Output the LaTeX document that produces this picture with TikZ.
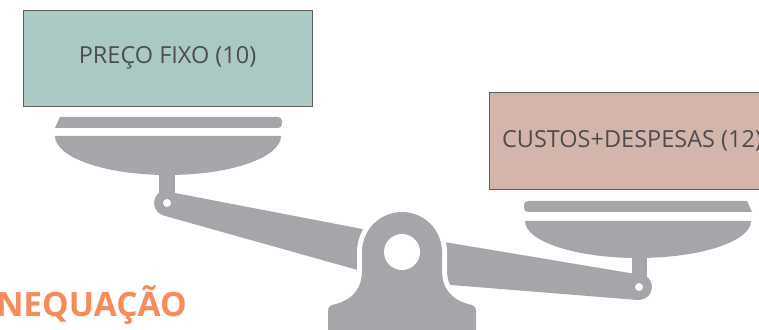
\documentclass[tikz,border=0pt]{standalone}
\usepackage{fontspec}
\setmainfont{Open Sans}
\usepackage{tikz}
\usetikzlibrary{positioning}
\definecolor{balgray}{RGB}{165, 166, 169}
\definecolor{fixoverde}{RGB}{170, 201, 197}
\definecolor{custorosa}{RGB}{211, 181, 171}
\definecolor{textogray}{RGB}{77, 77, 77}
\definecolor{bordagray}{RGB}{96, 96, 96}
\definecolor{tituloorange}{RGB}{246, 139, 92}

\tikzset{
  caixa/.style={draw=bordagray, line width=0.8pt, text=textogray,
    font=\fontsize{23.5}{28}\selectfont, inner sep=0pt},
  halo/.style={preaction={draw=white, line width=10pt}}
}

\begin{document}
\begin{tikzpicture}[x=1pt, y=1pt]
  \clip (0,0) rectangle (759,329);

  % Left pan (plate, bowl, stem, pivot)
  \fill[balgray] (55,201) -- (60,212) [rounded corners=4pt] -- (282,212) -- (282,201) [sharp corners] -- cycle;
  \fill[balgray] (55,193) -- (281,193) arc[start angle=0, end angle=-180, x radius=113pt, y radius=39pt] -- cycle;
  \fill[balgray] (159,126) rectangle (175,157);
  \fill[balgray] (175,136) -- (380,96.6) -- (380,52.7) -- (163.5,113.5) -- (167,126) -- cycle;
  \fill[balgray] (167,126) circle (13pt);
  \fill[white] (167,126) circle (4pt);

  % Right pan
  \fill[balgray] (752,117) -- (747,128) [rounded corners=4pt] -- (524,128) -- (524,117) [sharp corners] -- cycle;
  \fill[balgray] (525,108) -- (751,108) arc[start angle=0, end angle=-180, x radius=113pt, y radius=37pt] -- cycle;
  \fill[balgray] (632,42) rectangle (647,72);
  \fill[balgray] (420,91) -- (632,55.6) -- (639,42) -- (638,29) -- (420,46.5) -- cycle;
  \fill[balgray] (639,42) circle (13pt);
  \fill[white] (639,42) circle (4pt);

  % Central post with white gap around it
  \fill[balgray, halo] (328,-8) -- (328,18) .. controls (328,23) and (331,24) .. (336,25)
    .. controls (354,30) and (362,42) .. (362,58) -- (362,77) arc[start angle=180, end angle=0, radius=40pt]
    -- (442,58) .. controls (442,42) and (450,30) .. (468,25)
    .. controls (473,24) and (476,23) .. (476,18) -- (476,-8) -- cycle;
  \fill[white] (402,77) circle (18pt);

  % Weights on the pans
  \node[caixa, fill=fixoverde, minimum width=289pt, minimum height=96pt] (fixo) at (167.5,271) {PREÇO FIXO (10)};
  \node[caixa, fill=custorosa, minimum width=286pt, minimum height=97pt] (custos) at (632,188.5) {CUSTOS+DESPESAS (12)};

  % Title
  \node[anchor=base east, inner sep=0pt, text=tituloorange, font=\fontsize{33.5}{40}\selectfont\bfseries] (titulo) at (187,13) {INEQUAÇÃO};
\end{tikzpicture}
\end{document}
